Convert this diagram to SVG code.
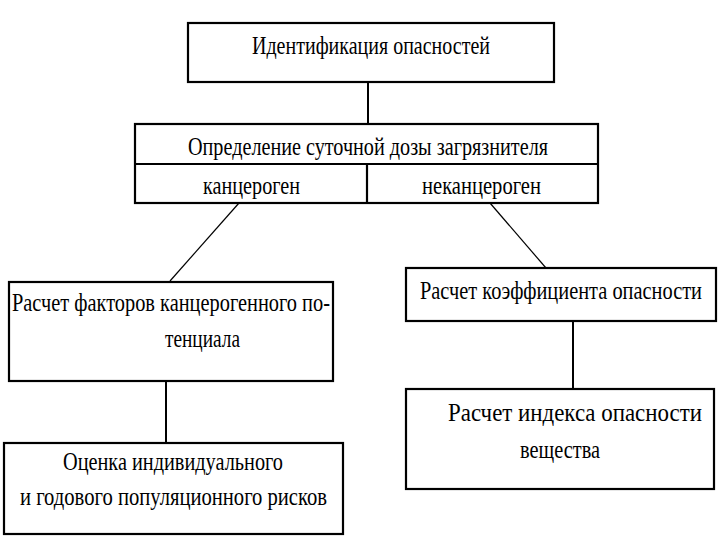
<svg xmlns="http://www.w3.org/2000/svg" width="720" height="540" viewBox="0 0 720 540">
<style>
.box{fill:#fff;stroke:#000;stroke-width:2.2}
.sep{stroke:#000;stroke-width:2.2;fill:none}
.conn{stroke:#000;stroke-width:2;fill:none}
.diag{stroke:#000;stroke-width:1.2;fill:none}
</style>
<rect width="720" height="540" fill="#fff"/>
<g id="connectors">
<line class="conn" x1="368" y1="82" x2="368" y2="124"/>
<line class="diag" x1="239" y1="203" x2="170" y2="281"/>
<line class="diag" x1="490" y1="203" x2="546" y2="268"/>
<line class="conn" x1="166" y1="381" x2="166" y2="443"/>
<line class="conn" x1="573" y1="321" x2="573" y2="389"/>
</g>
<g font-family="Liberation Serif, Times New Roman, serif" font-size="26" fill="#000" lengthAdjust="spacingAndGlyphs">
<g id="n1">
<rect class="box" x="188" y="23" width="366" height="59"/>
<text x="252" y="54" textLength="238" lengthAdjust="spacingAndGlyphs">Идентификация опасностей</text>
</g>
<g id="n2">
<rect class="box" x="135" y="124" width="463" height="79"/>
<line class="sep" x1="135" y1="164" x2="598" y2="164"/>
<line class="sep" x1="367" y1="164" x2="367" y2="203"/>
<text x="188" y="155" textLength="360" lengthAdjust="spacingAndGlyphs">Определение суточной дозы загрязнителя</text>
<text x="203" y="194" textLength="97" lengthAdjust="spacingAndGlyphs">канцероген</text>
<text x="422" y="194" textLength="119" lengthAdjust="spacingAndGlyphs">неканцероген</text>
</g>
<g id="n3">
<rect class="box" x="9" y="282" width="324" height="99"/>
<text x="12" y="311" textLength="318" lengthAdjust="spacingAndGlyphs">Расчет факторов канцерогенного по-</text>
<text x="165" y="347" textLength="75" lengthAdjust="spacingAndGlyphs">тенциала</text>
</g>
<g id="n4">
<rect class="box" x="406" y="268" width="310" height="53"/>
<text x="420" y="299" textLength="282" lengthAdjust="spacingAndGlyphs">Расчет коэффициента опасности</text>
</g>
<g id="n5">
<rect class="box" x="4" y="443" width="339" height="91"/>
<text x="63" y="470" textLength="220" lengthAdjust="spacingAndGlyphs">Оценка индивидуального</text>
<text x="20" y="505" textLength="307" lengthAdjust="spacingAndGlyphs">и годового популяционного рисков</text>
</g>
<g id="n6">
<rect class="box" x="406" y="389" width="308" height="100"/>
<text x="448" y="421" textLength="254" lengthAdjust="spacingAndGlyphs">Расчет индекса опасности</text>
<text x="520" y="458" textLength="80" lengthAdjust="spacingAndGlyphs">вещества</text>
</g>
</g>
</svg>
